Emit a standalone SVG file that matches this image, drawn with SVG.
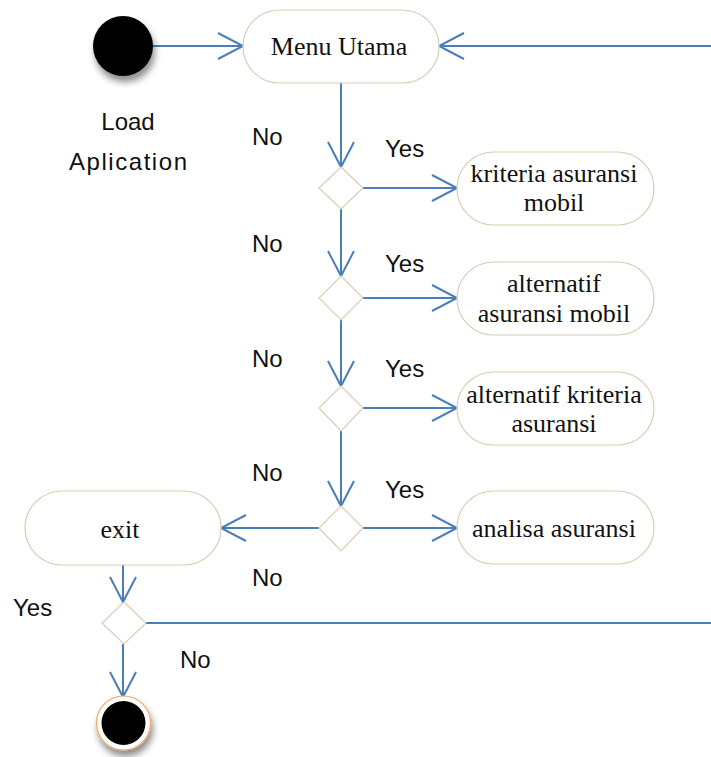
<svg xmlns="http://www.w3.org/2000/svg" width="711" height="757" viewBox="0 0 711 757">
  <defs>
    <style>
      .act { fill: #ffffff; stroke: #d6cfb4; stroke-width: 1.2; }
      .dec { fill: #ffffff; stroke: #d6cfb4; stroke-width: 1.2; }
      .flow { fill: none; stroke: #4a7ebb; stroke-width: 2; }
      .lbl { font-family: "Liberation Serif", "Times New Roman", serif; font-size: 26px; fill: #111; text-anchor: middle; }
      .guard { font-family: "Liberation Sans", Arial, sans-serif; font-size: 24px; fill: #111; }
      .cap { font-family: "Liberation Sans", Arial, sans-serif; font-size: 24px; fill: #111; text-anchor: middle; }
    </style>
    <marker id="open" viewBox="0 0 30 30" refX="27" refY="15" markerWidth="30" markerHeight="30" markerUnits="userSpaceOnUse" orient="auto">
      <path d="M2,2 L27,15 L2,28" fill="none" stroke="#4a7ebb" stroke-width="2"/>
    </marker>
    <filter id="shade" x="-50%" y="-50%" width="200%" height="200%">
      <feGaussianBlur in="SourceAlpha" stdDeviation="3.5"/>
      <feOffset dx="2" dy="6" result="b"/>
      <feComponentTransfer><feFuncA type="linear" slope="0.45"/></feComponentTransfer>
      <feMerge><feMergeNode/><feMergeNode in="SourceGraphic"/></feMerge>
    </filter>
  </defs>

  <rect width="711" height="757" fill="#ffffff"/>

  <!-- connectors -->
  <g id="connectors">
    <line class="flow" x1="153" y1="46" x2="243" y2="46" marker-end="url(#open)"/>
    <line class="flow" x1="711" y1="46" x2="439" y2="46" marker-end="url(#open)"/>
    <line class="flow" x1="341" y1="83" x2="341" y2="167" marker-end="url(#open)"/>
    <line class="flow" x1="341" y1="209" x2="341" y2="276" marker-end="url(#open)"/>
    <line class="flow" x1="341" y1="320" x2="341" y2="386" marker-end="url(#open)"/>
    <line class="flow" x1="341" y1="431" x2="341" y2="506" marker-end="url(#open)"/>
    <line class="flow" x1="363" y1="188" x2="457" y2="188" marker-end="url(#open)"/>
    <line class="flow" x1="363" y1="298" x2="457" y2="298" marker-end="url(#open)"/>
    <line class="flow" x1="363" y1="408" x2="457" y2="408" marker-end="url(#open)"/>
    <line class="flow" x1="363" y1="528" x2="457" y2="528" marker-end="url(#open)"/>
    <line class="flow" x1="319" y1="528" x2="221" y2="528" marker-end="url(#open)"/>
    <line class="flow" x1="123" y1="565" x2="123" y2="602" marker-end="url(#open)"/>
    <line class="flow" x1="146" y1="623" x2="711" y2="623"/>
    <line class="flow" x1="123" y1="644" x2="123" y2="697" marker-end="url(#open)"/>
  </g>

  <!-- start -->
  <g id="start">
    <circle cx="123" cy="46" r="30" fill="#000000" filter="url(#shade)"/>
    <text class="cap" x="128" y="130">Load</text>
    <text class="cap" x="128" y="170" textLength="118" lengthAdjust="spacing">Aplication</text>
  </g>

  <g id="menu-utama">
    <rect class="act" x="243" y="10" width="196" height="73" rx="36.5"/>
    <text class="lbl" x="339" y="55">Menu Utama</text>
  </g>

  <g id="kriteria">
    <rect class="act" x="457" y="152" width="197" height="73" rx="36.5"/>
    <text class="lbl" x="554" y="182">kriteria asuransi</text>
    <text class="lbl" x="554" y="211">mobil</text>
  </g>

  <g id="alternatif">
    <rect class="act" x="457" y="262" width="197" height="73" rx="36.5"/>
    <text class="lbl" x="554" y="292">alternatif</text>
    <text class="lbl" x="554" y="322">asuransi mobil</text>
  </g>

  <g id="alternatif-kriteria">
    <rect class="act" x="457" y="372" width="197" height="73" rx="36.5"/>
    <text class="lbl" x="554" y="403">alternatif kriteria</text>
    <text class="lbl" x="554" y="432">asuransi</text>
  </g>

  <g id="analisa">
    <rect class="act" x="457" y="491" width="197" height="73" rx="36.5"/>
    <text class="lbl" x="554" y="537">analisa asuransi</text>
  </g>

  <g id="exit">
    <rect class="act" x="25" y="491" width="196" height="74" rx="37"/>
    <text class="lbl" x="120" y="538">exit</text>
  </g>

  <g id="decision-1"><polygon class="dec" points="341,167 363,188 341,209 319,188"/></g>
  <g id="decision-2"><polygon class="dec" points="341,276 363,298 341,320 319,298"/></g>
  <g id="decision-3"><polygon class="dec" points="341,386 363,408 341,431 319,408"/></g>
  <g id="decision-4"><polygon class="dec" points="341,506 363,528 341,551 319,528"/></g>
  <g id="decision-5"><polygon class="dec" points="124,602 146,623 124,644 102,623"/></g>

  <g id="end">
    <circle cx="123.5" cy="723" r="27" fill="#ffffff" stroke="#f0a868" stroke-width="1.2" filter="url(#shade)"/>
    <circle cx="123.5" cy="723" r="22" fill="#000000"/>
  </g>

  <!-- guard labels -->
  <g id="guards">
    <text class="guard" x="252" y="145">No</text>
    <text class="guard" x="385" y="157">Yes</text>
    <text class="guard" x="252" y="252">No</text>
    <text class="guard" x="385" y="272">Yes</text>
    <text class="guard" x="252" y="367">No</text>
    <text class="guard" x="385" y="377">Yes</text>
    <text class="guard" x="252" y="481">No</text>
    <text class="guard" x="385" y="498">Yes</text>
    <text class="guard" x="252" y="586">No</text>
    <text class="guard" x="13" y="616">Yes</text>
    <text class="guard" x="180" y="668">No</text>
  </g>
</svg>
